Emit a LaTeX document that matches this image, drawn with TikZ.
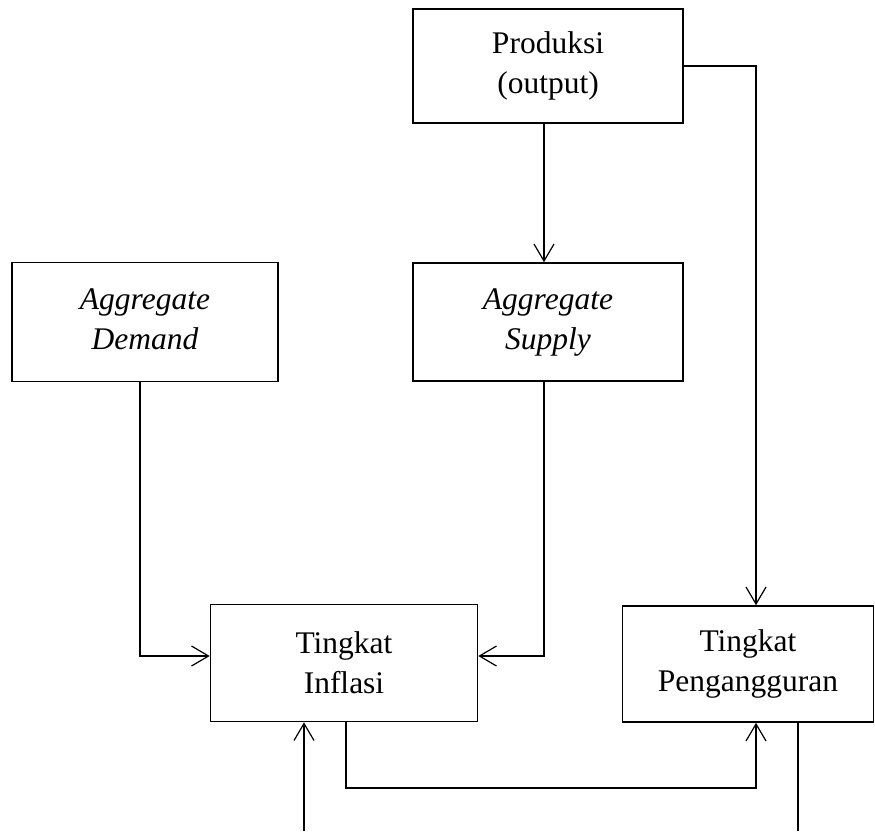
\documentclass[tikz,border=0pt]{standalone}
\usepackage{fontspec}
\setmainfont{Liberation Serif}
\usepackage{tikz}
\usetikzlibrary{arrows.meta,positioning,calc}

\begin{document}
\begin{tikzpicture}[
    x=1pt, y=-1pt,
    font=\fontsize{31.5}{40}\selectfont,
    box/.style={rectangle, draw=black, line width=1.6pt, inner sep=0pt, align=center, text centered},
    arrow/.style={-{Straight Barb[length=17pt,width=20pt,line width=1.2pt]}, line width=1.2pt},
    line/.style={line width=1.2pt}
]
    \useasboundingbox (0,0) rectangle (875,831);

    % Main components
    \node[box, minimum width=270pt, minimum height=114pt] (prod) at (548,66) {Produksi\\(output)};
    \node[box, minimum width=266pt, minimum height=119pt] (ad) at (145,322) {\raisebox{6pt}{\itshape Aggregate}\\\raisebox{6pt}{\itshape Demand}};
    \node[box, minimum width=270pt, minimum height=118pt] (as) at (548,322) {\raisebox{6pt}{\itshape Aggregate}\\\raisebox{6pt}{\itshape Supply}};
    \node[box, minimum width=267pt, minimum height=117pt] (infl) at (344,663) {Tingkat\\Inflasi};
    \node[box, minimum width=251pt, minimum height=116pt] (peng) at (748,664) {Tingkat\\Pengangguran};

    % Open ends
    \coordinate (infl in) at (304,831);
    \coordinate (peng out) at (798,831);
    \coordinate (low) at (756,788);

    % Arrows
    \draw[arrow] ([xshift=-4pt]prod.south) -- ([xshift=-4pt]as.north);
    \draw[arrow] (prod.east) -| ([xshift=8pt]peng.north);
    \draw[arrow] ([xshift=-5pt]ad.south) |- ([yshift=7pt]infl.west);
    \draw[arrow] ([xshift=-4pt]as.south) |- ([yshift=7pt]infl.east);
    \draw[arrow] (infl in) -- ([xshift=-40pt]infl.south);
    \draw[arrow] ([xshift=2pt]infl.south) |- (low) -- ([xshift=8pt]peng.south);
    \draw[line] ([xshift=50pt]peng.south) -- (peng out);
\end{tikzpicture}
\end{document}
